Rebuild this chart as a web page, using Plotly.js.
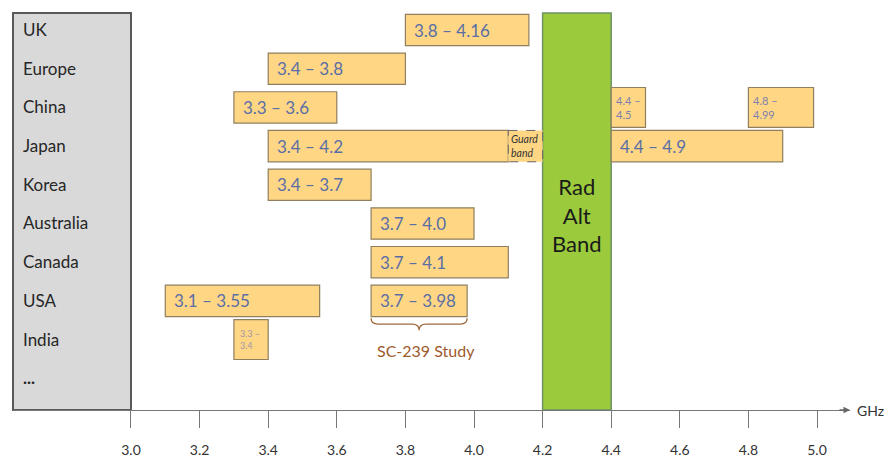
<!DOCTYPE html>
<html>
<head>
<meta charset="utf-8">
<script src="https://cdn.plot.ly/plotly-3.0.1.min.js"></script>
<style>html,body{margin:0;padding:0;background:#fff;}#chart{width:889px;height:460px;}</style>
</head>
<body>
<div id="chart"></div>
<script>
// ---- data ----
const countries = ['UK','Europe','China','Japan','Korea','Australia','Canada','USA','India','...'];

const bandCountry = ['UK','Europe','China','Japan','Korea','Australia','Canada','USA','USA','Japan'];
const bandStart   = [3.8, 3.4, 3.3, 3.4, 3.4, 3.7, 3.7, 3.1, 3.7, 4.4];
const bandEnd     = [4.16, 3.8, 3.6, 4.2, 3.7, 4.0, 4.1, 3.55, 3.98, 4.9];

const smallCountry = ['China','China','India'];
const smallStart   = [4.4, 4.8, 3.3];
const smallEnd     = [4.5, 4.99, 3.4];

const guardCountry = 'Japan';
const guardBand    = [4.1, 4.2];
const guardLabel   = 'Guard<br>band';

const radAltBand  = [4.2, 4.4];
const radAltLabel = 'Rad<br>Alt<br>Band';

const studyCountry = 'USA';
const studyBand    = [3.7, 3.98];
const studyLabel   = 'SC-239 Study';

const tickVals = [3.0, 3.2, 3.4, 3.6, 3.8, 4.0, 4.2, 4.4, 4.6, 4.8, 5.0];
const unitLabel = 'GHz';

// ---- helpers ----
const FONT = 'Lato, "Open Sans", sans-serif';
const fmt = v => (Math.abs(v * 10 - Math.round(v * 10)) < 1e-9) ? v.toFixed(1) : String(v);
const xRange = [2.656, 5.0962];
const yRange = [9.82, -0.44];
const idx = c => countries.indexOf(c);

// main bars: Japan's solid box stops where the guard band begins
const drawEnd = bandEnd.map((e, i) =>
  (bandCountry[i] === guardCountry && bandStart[i] < guardBand[0] && e > guardBand[0]) ? guardBand[0] : e);

const fill = '#FFD684';
const edge = '#8f7f5f';

const traces = [
  {
    type: 'bar', orientation: 'h',
    y: bandCountry, base: bandStart,
    x: bandStart.map((s, i) => drawEnd[i] - s),
    width: bandCountry.map(() => 0.81),
    marker: {color: fill, line: {color: edge, width: 1.2}},
    textposition: 'none', hoverinfo: 'skip'
  },
  {
    type: 'bar', orientation: 'h',
    y: smallCountry, base: smallStart,
    x: smallStart.map((s, i) => smallEnd[i] - s),
    width: smallCountry.map(() => 1.03),
    marker: {color: fill, line: {color: edge, width: 1.2}},
    textposition: 'none', hoverinfo: 'skip'
  }
];

const annotations = [];
bandCountry.forEach((c, i) => {
  annotations.push({
    x: bandStart[i], y: c, xref: 'x', yref: 'y', xanchor: 'left', xshift: 7,
    text: fmt(bandStart[i]) + ' – ' + fmt(bandEnd[i]),
    showarrow: false, font: {family: FONT, size: 17, color: '#5a6ea6'}
  });
});
smallCountry.forEach((c, i) => {
  const tiny = c === 'India';
  annotations.push({
    x: smallStart[i], y: c, xref: 'x', yref: 'y', xanchor: 'left', xshift: tiny ? 4 : 3,
    text: fmt(smallStart[i]) + ' –<br>' + String(smallEnd[i]), align: 'left',
    showarrow: false,
    font: {family: FONT, size: tiny ? 9 : 11, color: tiny ? '#a097a8' : '#7d80ae'}
  });
});
// guard band label
annotations.push({
  x: guardBand[0], y: guardCountry, xref: 'x', yref: 'y', xanchor: 'left', xshift: 1,
  text: '<i>' + guardLabel + '</i>', align: 'left', showarrow: false,
  font: {family: FONT, size: 10.5, color: '#333'}
});
// rad alt label
annotations.push({
  x: (radAltBand[0] + radAltBand[1]) / 2, y: 0.49, xref: 'x', yref: 'paper',
  text: radAltLabel, showarrow: false,
  font: {family: FONT, size: 22, color: '#1a1a1a'}
});
// study label
annotations.push({
  x: (studyBand[0] + studyBand[1]) / 2 + 0.02, y: studyCountry, xref: 'x', yref: 'y', yshift: -50,
  text: studyLabel, showarrow: false,
  font: {family: FONT, size: 16, color: '#9e5a2c'}
});
// axis arrow + unit
annotations.push({
  x: 1, y: 0, xref: 'paper', yref: 'paper', ax: -12, ay: 0, text: '',
  showarrow: true, arrowhead: 2, arrowsize: 1, arrowwidth: 1.3, arrowcolor: '#666'
});
annotations.push({
  x: 1, y: 0, xref: 'paper', yref: 'paper', xanchor: 'left', yanchor: 'middle', xshift: 5,
  text: unitLabel, showarrow: false, font: {family: FONT, size: 14, color: '#333'}
});

// brace under study box
const si = idx(studyCountry);
const x0 = studyBand[0], x1 = studyBand[1], xm = (x0 + x1) / 2, d = 0.02;
const yt = si + 0.45, ym = si + 0.6, yb = si + 0.76;
const bracePath = `M ${x0},${yt} Q ${x0},${ym} ${x0 + d},${ym} L ${xm - d},${ym} Q ${xm},${ym} ${xm},${yb} ` +
                  `Q ${xm},${ym} ${xm + d},${ym} L ${x1 - d},${ym} Q ${x1},${ym} ${x1},${yt}`;

const paperX = v => (v - xRange[0]) / (xRange[1] - xRange[0]);
const gi = idx(guardCountry);

const shapes = [
  { type: 'rect', xref: 'paper', yref: 'paper', x0: 0, x1: paperX(tickVals[0]), y0: 0, y1: 1,
    fillcolor: '#d9d9d9', line: {color: '#595959', width: 2}, layer: 'below' },
  { type: 'rect', xref: 'x', yref: 'paper', x0: radAltBand[0], x1: radAltBand[1], y0: 0, y1: 1,
    fillcolor: '#9BCB3C', line: {color: '#6f9366', width: 1.5}, layer: 'below' },
  { type: 'rect', xref: 'x', yref: 'y', x0: guardBand[0], x1: guardBand[1], y0: gi - 0.405, y1: gi + 0.405,
    fillcolor: fill, line: {color: '#666', width: 1, dash: 'dash'}, layer: 'above' },
  { type: 'path', xref: 'x', yref: 'y', path: bracePath,
    line: {color: '#a0693c', width: 1.3}, layer: 'above' }
];

const layout = {
  width: 889, height: 460,
  margin: {l: 13, r: 39, t: 13, b: 50},
  paper_bgcolor: '#fff', plot_bgcolor: 'rgba(0,0,0,0)',
  barmode: 'overlay', showlegend: false, hovermode: false,
  xaxis: {
    range: xRange, tickvals: tickVals, ticktext: tickVals.map(v => v.toFixed(1)),
    ticks: 'outside', ticklen: 17, tickcolor: '#777', tickwidth: 1,
    showline: true, linecolor: '#777', linewidth: 1,
    showgrid: false, zeroline: false, ticklabelstandoff: 10,
    tickfont: {family: FONT, size: 14, color: '#333'}
  },
  yaxis: {
    type: 'category', categoryarray: countries, categoryorder: 'array',
    tickvals: countries, ticktext: countries.map(c => c === '...' ? '<b>...</b>' : c),
    range: yRange, showgrid: false, zeroline: false, showline: false, ticks: '',
    ticklabelposition: 'inside', ticklabelstandoff: 7,
    tickfont: {family: FONT, size: 17, color: '#262626'}
  },
  shapes: shapes,
  annotations: annotations
};

Plotly.newPlot('chart', traces, layout, {staticPlot: true, displayModeBar: false});
</script>
</body>
</html>
